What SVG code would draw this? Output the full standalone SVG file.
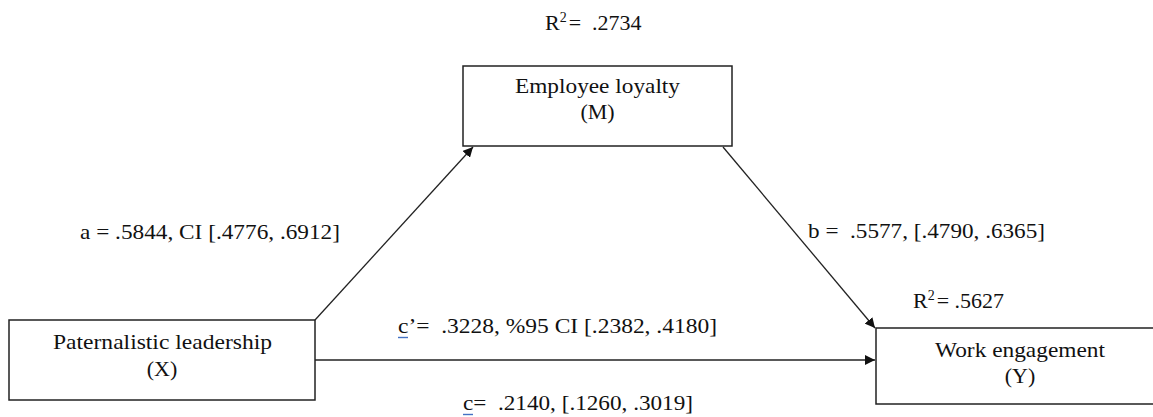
<svg xmlns="http://www.w3.org/2000/svg" width="1153" height="417" viewBox="0 0 1153 417">
<style>
text{font-family:'Liberation Serif','Times New Roman',serif;font-size:22px;fill:#111}
.box{fill:#fff;stroke:#222;stroke-width:1.5}
.c{fill:none;stroke:#222;stroke-width:1.3}
.mid{text-anchor:middle}
.ul{stroke:#4472c4;stroke-width:1.4}
</style>
<defs>
<marker id="ah" viewBox="0 0 10 10" refX="10" refY="5" markerWidth="10" markerHeight="10" markerUnits="userSpaceOnUse" orient="auto">
<path d="M0,0 L10,5 L0,10 z" fill="#111"/>
</marker>
</defs>
<rect width="1153" height="417" fill="#fff"/>
<g id="connectors">
<line class="c" x1="315" y1="320" x2="473" y2="147" marker-end="url(#ah)"/>
<line class="c" x1="723" y1="147" x2="875" y2="328" marker-end="url(#ah)"/>
<line class="c" x1="315" y1="360" x2="875" y2="360" marker-end="url(#ah)"/>
</g>
<g id="node-M">
<rect class="box" x="463" y="66" width="269" height="80"/>
<text class="mid" x="597.5" y="93" textLength="165" lengthAdjust="spacingAndGlyphs">Employee loyalty</text>
<text class="mid" x="597.5" y="119">(M)</text>
</g>
<g id="node-X">
<rect class="box" x="9" y="320" width="306" height="80"/>
<text class="mid" x="162.5" y="349" textLength="219" lengthAdjust="spacingAndGlyphs">Paternalistic leadership</text>
<text class="mid" x="162" y="376">(X)</text>
</g>
<g id="node-Y">
<rect class="box" x="876" y="328" width="290" height="76"/>
<text class="mid" x="1020" y="357" textLength="170" lengthAdjust="spacingAndGlyphs">Work engagement</text>
<text class="mid" x="1020" y="383">(Y)</text>
</g>
<g id="labels">
<text x="545" y="30" font-size="23">R<tspan dy="-8" font-size="14">2</tspan><tspan dy="8" dx="2">=&#160;&#160;.2734</tspan></text>
<text x="80" y="239" textLength="260" lengthAdjust="spacingAndGlyphs">a = .5844, CI [.4776, .6912]</text>
<text x="808" y="238" textLength="237" lengthAdjust="spacingAndGlyphs">b =&#160; .5577, [.4790, .6365]</text>
<text x="913" y="308" font-size="23">R<tspan dy="-8" font-size="14">2</tspan><tspan dy="8" dx="2">= .5627</tspan></text>
<text x="398" y="333" textLength="319" lengthAdjust="spacingAndGlyphs">c’=&#160; .3228, %95 CI [.2382, .4180]</text>
<line class="ul" x1="398" y1="337.5" x2="408" y2="337.5"/>
<text x="463" y="410" textLength="230" lengthAdjust="spacingAndGlyphs">c=&#160; .2140, [.1260, .3019]</text>
<line class="ul" x1="463" y1="414.5" x2="473" y2="414.5"/>
</g>
</svg>
